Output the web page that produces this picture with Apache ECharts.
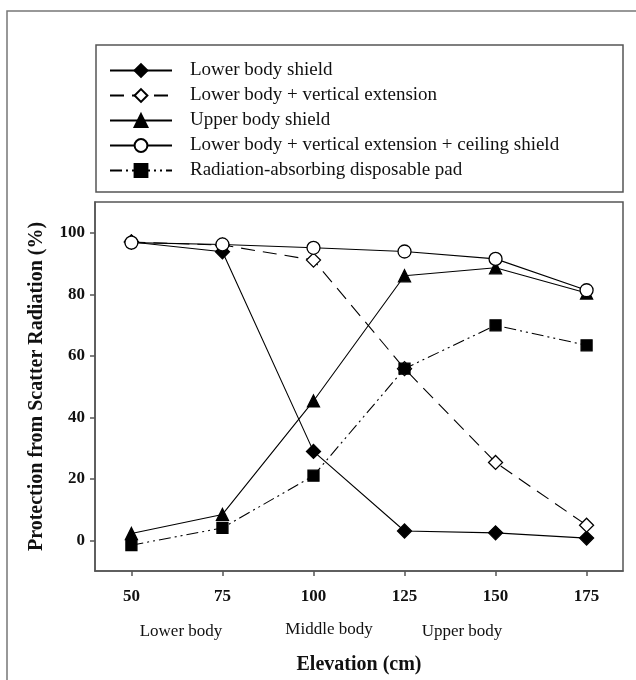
<!DOCTYPE html>
<html><head><meta charset="utf-8">
<script src="https://cdn.jsdelivr.net/npm/echarts@6/dist/echarts.min.js"></script>
<style>html,body{margin:0;padding:0;background:#fff}#c{width:636px;height:680px}</style>
</head><body><div id="c"></div>
<script>
const elevations = [50, 75, 100, 125, 150, 175];
const lowerBodyShield = [97, 93.8, 28.9, 3.0, 2.4, 0.7];
const lowerBodyVertical = [97, 96.0, 91.1, 55.8, 25.3, 4.9];
const upperBodyShield = [2.2, 8.4, 45.3, 86.0, 88.6, 80.4];
const ceilingShield = [96.8, 96.2, 95.1, 93.9, 91.5, 81.3];
const disposablePad = [-1.6, 4.0, 21.0, 55.8, 69.9, 63.4];
const seriesNames = [
  'Lower body shield',
  'Lower body + vertical extension',
  'Upper body shield',
  'Lower body + vertical extension + ceiling shield',
  'Radiation-absorbing disposable pad'
];
const regionLabels = ['Lower body', 'Middle body', 'Upper body'];
const yTicks = [0, 20, 40, 60, 80, 100];

const FONT = '"Liberation Serif", "Times New Roman", serif';
const pair = arr => elevations.map((x, i) => [x, arr[i]]);

const chart = echarts.init(document.getElementById('c'), null, {renderer: 'canvas'});
const base = (name, data, symbol, size, fill, type) => ({
  name, type: 'line', data: pair(data), symbol, symbolSize: size,
  lineStyle: {color: '#000', width: 1.1, type: type},
  itemStyle: {color: fill, borderColor: '#000', borderWidth: 1.3},
  emphasis: {disabled: true}, animation: false
});

chart.setOption({
  animation: false,
  textStyle: {fontFamily: FONT},
  grid: {left: 95, right: 13, top: 202, bottom: 109, show: true, borderColor: '#555', borderWidth: 1.5, backgroundColor: 'transparent'},
  legend: {
    orient: 'vertical', left: 104, top: 56, itemWidth: 62, itemHeight: 16, itemGap: 6,
    textStyle: {fontFamily: FONT, fontSize: 19, color: '#111', padding: [0, 0, 0, 13]},
    data: seriesNames
  },
  xAxis: {
    type: 'value', min: 40, max: 185,
    axisLine: {show: true, onZero: false, lineStyle: {color: '#555', width: 1.5}},
    axisTick: {show: true, length: 5, lineStyle: {color: '#555', width: 1.5}, customValues: elevations},
    axisLabel: {fontFamily: FONT, fontWeight: 'bold', fontSize: 17, color: '#111', margin: 17, customValues: elevations},
    splitLine: {show: false},
    name: 'Elevation (cm)', nameLocation: 'middle', nameGap: 84,
    nameTextStyle: {fontFamily: FONT, fontWeight: 'bold', fontSize: 20, color: '#111'}
  },
  yAxis: {
    type: 'value', min: -10, max: 110,
    axisLine: {show: true, onZero: false, lineStyle: {color: '#555', width: 1.5}},
    axisTick: {show: true, length: 5, lineStyle: {color: '#555', width: 1.5}, customValues: yTicks},
    axisLabel: {fontFamily: FONT, fontWeight: 'bold', fontSize: 17, color: '#111', margin: 10, customValues: yTicks},
    splitLine: {show: false},
    name: 'Protection from Scatter Radiation (%)', nameLocation: 'middle', nameGap: 48,
    nameTextStyle: {fontFamily: FONT, fontWeight: 'bold', fontSize: 20, color: '#111'}
  },
  graphic: [
    {type: 'rect', shape: {x: 7, y: 11, width: 700, height: 700}, style: {fill: 'none', stroke: '#777', lineWidth: 1.5}, silent: true, z: -1},
    {type: 'rect', shape: {x: 96, y: 45, width: 527, height: 147}, style: {fill: 'none', stroke: '#555', lineWidth: 1.5}, silent: true},
    {type: 'text', x: 181, y: 632, style: {text: regionLabels[0], font: '17px ' + FONT, fill: '#111', textAlign: 'center', textVerticalAlign: 'middle'}},
    {type: 'text', x: 329, y: 630, style: {text: regionLabels[1], font: '17px ' + FONT, fill: '#111', textAlign: 'center', textVerticalAlign: 'middle'}},
    {type: 'text', x: 462, y: 632, style: {text: regionLabels[2], font: '17px ' + FONT, fill: '#111', textAlign: 'center', textVerticalAlign: 'middle'}}
  ],
  series: [
    base(seriesNames[0], lowerBodyShield, 'diamond', 14, '#000', 'solid'),
    base(seriesNames[1], lowerBodyVertical, 'diamond', 14, '#fff', [14, 8]),
    base(seriesNames[2], upperBodyShield, 'triangle', 12, '#000', 'solid'),
    base(seriesNames[3], ceilingShield, 'circle', 13, '#fff', 'solid'),
    base(seriesNames[4], disposablePad, 'rect', 11, '#000', [12, 4, 2, 4, 2, 4])
  ]
});
</script></body></html>
